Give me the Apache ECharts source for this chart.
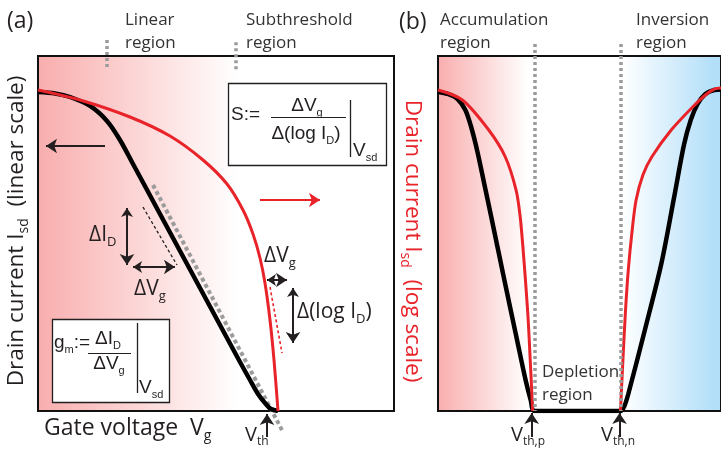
<!DOCTYPE html>
<html><head><meta charset="utf-8">
<script src="https://cdn.jsdelivr.net/npm/echarts@6/dist/echarts.min.js"></script>
<style>html,body{margin:0;padding:0;background:#fff}#c{width:721px;height:451px}</style>
</head><body><div id="c"></div>
<script>
// ---------- Panel (a): unipolar transfer curve (arb. units, 0-100) ----------
const aLinearVg = [0, 4.78, 8.99, 14.61, 19.38, 23.03, 26.69, 30.34, 34.27, 39.89, 45.51, 51.12, 56.74, 59.55, 61.80, 63.76, 65.45, 67.42];
const aLinearId = [89.86, 89.44, 88.45, 85.92, 81.69, 76.34, 69.58, 62.82, 55.49, 45.07, 34.65, 24.23, 13.80, 8.73, 4.79, 2.25, 0.56, 0];
const aLogVg = [0, 11.80, 25.84, 37.08, 46.35, 53.09, 57.58, 60.39, 62.36, 63.76, 65.17, 66.29, 67.42];
const aLogId = [90.42, 87.61, 82.82, 77.46, 70.70, 63.94, 56.62, 49.86, 43.10, 36.06, 25.63, 14.37, 0];
const aFitVg = [32.30, 68.82];
const aFitId = [63.66, -5.92];
const aTanLinVg = [29.49, 39.04];
const aTanLinId = [57.46, 41.13];
const aTanLogVg = [65.17, 68.54];
const aTanLogId = [34.93, 16.34];

// ---------- Panel (b): ambipolar transfer curve ----------
const bLinearVg = [0, 3.45, 6.90, 9.66, 11.72, 13.79, 16.21, 18.97, 23.45, 27.93, 31.03, 32.76, 34.14, 64.48, 65.86, 67.24, 73.10, 78.97, 83.45, 86.90, 89.31, 91.72, 94.48, 97.59, 100];
const bLinearId = [89.86, 89.30, 87.89, 84.79, 80.0, 73.52, 64.51, 54.08, 36.90, 20.0, 8.45, 3.10, 0, 0, 1.41, 4.79, 22.82, 41.69, 60.28, 74.93, 81.97, 86.48, 89.30, 90.42, 90.56];
const bLogPVg = [0, 8.62, 17.93, 23.79, 27.59, 28.97, 30.0, 31.72, 32.76, 33.45];
const bLogPId = [90.42, 87.61, 79.15, 71.55, 62.25, 55.21, 46.20, 27.61, 11.55, 0];
const bLogNVg = [64.48, 65.17, 66.21, 67.24, 68.62, 70.0, 72.41, 75.52, 82.41, 90.34, 94.48, 97.59, 100];
const bLogNId = [0, 11.55, 27.61, 39.72, 50.99, 59.44, 66.48, 71.55, 79.15, 85.92, 89.01, 90.70, 90.99];

// ---------- annotation anchors (data units) ----------
const aSingleArrows = [[[18.82, 74.65], [2.25, 74.65]], [[64.33, -7.32], [64.33, -0.85]]];
const aRedArrows = [[[62.36, 59.44], [79.21, 59.44]]];
const aDoubleArrows = [[[25.0, 57.18], [25.0, 41.13]], [[26.69, 40.56], [38.48, 40.56]], [[64.33, 36.90], [69.94, 36.90]], [[71.63, 34.65], [71.63, 19.15]]];
const aRegionMarks = [[[19.38, 104.5], [19.38, 96.06]], [[55.62, 103.9], [55.62, 95.5]]];
const bThresholds = [34.14, 64.48];
const bArrows = [[[33.10, -7.32], [33.10, -0.56]], [[64.14, -7.32], [64.14, -0.56]]];

const RED = '#e8232a', INK = '#231f20', GRAY = '#9b9b9b';
const FONT = '"Open Sans", "Liberation Sans", sans-serif';
const FFORM = '"Liberation Sans", Arial, sans-serif';

const zip = (xs, ys) => xs.map((x, i) => [x, ys[i]]);
const chart = echarts.init(document.getElementById('c'), null, {renderer: 'canvas'});

const gradA = new echarts.graphic.LinearGradient(0, 0, 1, 0, [
  {offset: 0, color: '#f9adad'}, {offset: 0.56, color: '#ffffff'}, {offset: 1, color: '#ffffff'}]);
const gradB = new echarts.graphic.LinearGradient(0, 0, 1, 0, [
  {offset: 0, color: '#f9adad'}, {offset: 0.32, color: '#ffffff'}, {offset: 0.65, color: '#ffffff'},
  {offset: 0.97, color: '#b3dff9'}, {offset: 1, color: '#b3dff9'}]);

function richStyles(size, family, color) {
  return {
    m: {fontSize: size, fontFamily: family, fill: color, lineHeight: Math.round(size * 1.3)},
    s: {fontSize: Math.round(size * 0.6), fontFamily: family, fill: color, verticalAlign: 'bottom', lineHeight: Math.round(size * 0.5)},
    q: {fontSize: Math.round(size * 0.6), fontFamily: family, fill: color, verticalAlign: 'bottom', lineHeight: Math.round(size * 0.9)}
  };
}
function txt(x, y, text, size, o) {
  o = o || {};
  const fam = o.family || FONT, col = o.color || INK;
  return {type: 'text', x: x, y: y, rotation: o.rot || 0, z: 100,
    style: {text: text, fill: col, fontSize: size, fontFamily: fam, align: o.align || 'left', verticalAlign: 'middle',
      rich: richStyles(size, fam, col)}};
}
function seg(x1, y1, x2, y2, w) {
  return {type: 'line', z: 99, shape: {x1: x1, y1: y1, x2: x2, y2: y2}, style: {stroke: INK, lineWidth: w || 1.3}};
}
function box(x, y, w, h) {
  return {type: 'rect', z: 98, shape: {x: x + 0.5, y: y + 0.5, width: w, height: h}, style: {fill: '#fff', stroke: INK, lineWidth: 1.3}};
}

const graphics = [
  txt(7, 21, '(a)', 23),
  txt(125, 20, 'Linear', 17, {color: '#333'}), txt(125, 43, 'region', 17, {color: '#333'}),
  txt(246, 20, 'Subthreshold', 17, {color: '#333'}), txt(246, 43, 'region', 17, {color: '#333'}),
  txt(17, 231, '{m|Drain current I}{s|sd}{m|  (linear scale)}', 22.5, {rot: Math.PI / 2, align: 'center'}),
  txt(412, 241, '{m|Drain current I}{s|sd}{m|  (log scale)}', 22.5, {rot: -Math.PI / 2, align: 'center', color: RED}),
  txt(44, 428, '{m|Gate voltage  V}{s|g}', 23),
  txt(245, 435, '{m|V}{s|th}', 20),
  txt(89, 235, '{m|ΔI}{s|D}', 21),
  txt(134, 289, '{m|ΔV}{s|g}', 21),
  txt(264, 256, '{m|ΔV}{s|g}', 21),
  txt(297, 312, '{m|Δ(log I}{s|D}{m|)}', 21),
  box(228, 83, 158, 82),
  txt(231, 115, 'S:=', 19, {family: FFORM}),
  txt(307, 106, '{m|ΔV}{q|g}', 19, {family: FFORM, align: 'center'}),
  seg(271, 117.5, 346, 117.5, 1.2),
  txt(306, 134, '{m|Δ(log I}{s|D}{m|)}', 19, {family: FFORM, align: 'center'}),
  seg(350.5, 100, 350.5, 157, 1.3),
  txt(353, 151, '{m|V}{s|sd}', 19, {family: FFORM}),
  box(52, 319, 117, 83),
  txt(54, 343, '{m|g}{s|m}{m|:=}', 19, {family: FFORM}),
  txt(108, 339, '{m|ΔI}{s|D}', 19, {family: FFORM, align: 'center'}),
  seg(88, 353.5, 131, 353.5, 1.2),
  txt(109, 364, '{m|ΔV}{s|g}', 19, {family: FFORM, align: 'center'}),
  seg(137.5, 323, 137.5, 393, 1.3),
  txt(139, 388, '{m|V}{s|sd}', 19, {family: FFORM}),
  txt(399, 22, '(b)', 23),
  txt(440, 20, 'Accumulation', 17, {color: '#333'}), txt(440, 43, 'region', 17, {color: '#333'}),
  txt(636, 20, 'Inversion', 17, {color: '#333'}), txt(636, 43, 'region', 17, {color: '#333'}),
  txt(542, 372, 'Depletion', 17, {color: '#333'}), txt(542, 395, 'region', 17, {color: '#333'}),
  txt(511, 435, '{m|V}{s|th,p}', 20),
  txt(601, 435, '{m|V}{s|th,n}', 20)
];

function lineSeries(xi, xs, ys, color, width, type, smooth) {
  return {type: 'line', xAxisIndex: xi, yAxisIndex: xi, data: zip(xs, ys), symbol: 'none', smooth: smooth ? 0.3 : false,
    clip: !!smooth, silent: true, z: smooth ? 5 : 3,
    lineStyle: {color: color, width: width, type: type || 'solid', cap: 'butt'}};
}
function linesSeries(xi, data, color, width, sym, type) {
  return {type: 'lines', coordinateSystem: 'cartesian2d', xAxisIndex: xi, yAxisIndex: xi, clip: false, silent: true, z: 6,
    symbol: sym, symbolSize: [9, 11],
    lineStyle: {color: color, width: width, opacity: 1, curveness: 0, type: type || 'solid'},
    data: data.map(c => ({coords: c}))};
}

const option = {
  animation: false,
  backgroundColor: '#fff',
  grid: [
    {left: 38, top: 56, width: 356, height: 355, show: true, borderColor: '#111', borderWidth: 2, backgroundColor: gradA},
    {left: 438, top: 56, width: 290, height: 355, show: true, borderColor: '#111', borderWidth: 2, backgroundColor: gradB}
  ],
  xAxis: [
    {gridIndex: 0, type: 'value', min: 0, max: 100, show: false},
    {gridIndex: 1, type: 'value', min: 0, max: 100, show: false}
  ],
  yAxis: [
    {gridIndex: 0, type: 'value', min: 0, max: 100, show: false},
    {gridIndex: 1, type: 'value', min: 0, max: 100, show: false}
  ],
  series: [
    lineSeries(0, aFitVg, aFitId, GRAY, 4, [4, 3], false),
    lineSeries(0, aTanLinVg, aTanLinId, INK, 1.3, [3, 2.5], false),
    lineSeries(0, aTanLogVg, aTanLogId, RED, 1.6, [3, 2.5], false),
    lineSeries(0, aLinearVg, aLinearId, '#000', 4.5, 'solid', true),
    lineSeries(0, aLogVg, aLogId, RED, 3, 'solid', true),
    linesSeries(0, aSingleArrows, INK, 2, ['none', 'arrow']),
    linesSeries(0, aRedArrows, RED, 2, ['none', 'arrow']),
    linesSeries(0, aDoubleArrows, INK, 2, ['arrow', 'arrow']),
    linesSeries(0, aRegionMarks, GRAY, 3.5, ['none', 'none'], [3, 3]),
    linesSeries(1, bThresholds.map(v => [[v, 103.4], [v, 0]]), GRAY, 3.5, ['none', 'none'], [3, 3]),
    lineSeries(1, bLinearVg, bLinearId, '#000', 4.5, 'solid', true),
    lineSeries(1, bLogPVg, bLogPId, RED, 3, 'solid', true),
    lineSeries(1, bLogNVg, bLogNId, RED, 3, 'solid', true),
    linesSeries(1, bArrows, INK, 2, ['none', 'arrow'])
  ],
  graphic: graphics
};
chart.setOption(option);
</script></body></html>
